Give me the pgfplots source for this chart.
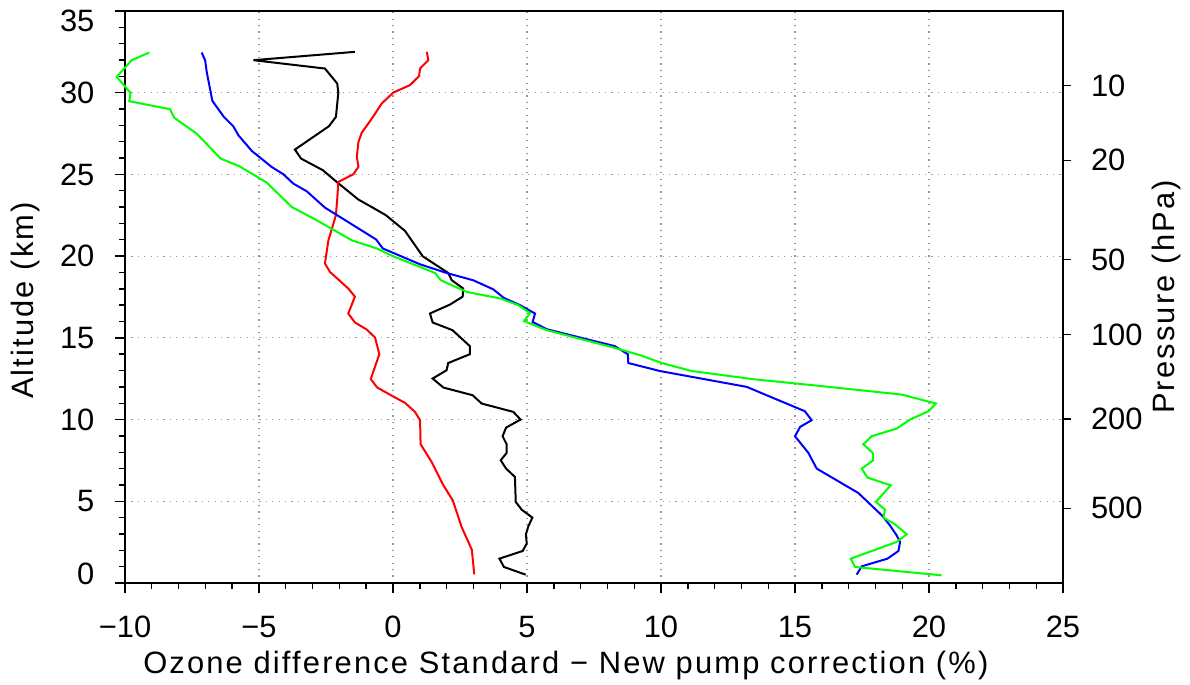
\documentclass[border=0pt]{standalone}
\usepackage{fontspec}
\setmainfont{Liberation Sans}
\usepackage{pgfplots}
\pgfplotsset{compat=1.18}

\definecolor{ozgreen}{RGB}{0,255,0}
\definecolor{ozblue}{RGB}{0,0,255}
\definecolor{ozred}{RGB}{255,0,0}

\tikzset{ozlabel/.style={font=\fontsize{15.5}{18}\selectfont\addfontfeature{LetterSpace=7}}}

\begin{document}
\begin{tikzpicture}
\pgfplotsset{
  ozbase/.style={
    scale only axis, width=469bp, height=286bp,
    xmin=-10, xmax=25, ymin=0, ymax=35,
    font=\fontsize{15.5}{18}\selectfont,
    axis line style={line width=0.8bp},
    every tick/.style={black, line width=0.7bp},
    tick align=outside,
    major tick length=5bp, minor tick length=3bp,
    /pgf/number format/assume math mode=true,
  },
}
\begin{axis}[
  ozbase,
  xtick={-10,-5,...,25}, ytick={0,5,...,35},
  xticklabels={−10,−5,0,5,10,15,20,25},
  yticklabels={\raisebox{-0.5bp}[0pt][0pt]{0},5,10,15,20,25,30,\raisebox{-10.5bp}[0pt][0pt]{35}},
  minor x tick num=4, minor y tick num=4,
  xtick pos=bottom, ytick pos=left,
  grid=major,
  major grid style={gray!80, line width=0.6bp, dash pattern=on 0.6bp off 2.6bp},
  xticklabel style={anchor=center, yshift=-17bp},
  yticklabel style={anchor=east, xshift=-6.5bp},
  xlabel={Ozone difference Standard − New pump correction (\%)},
  ylabel={Altitude (km)},
  every axis x label/.style={at={(axis description cs:0.47,0)}, anchor=center, yshift=-41.5bp, ozlabel},
  every axis y label/.style={at={(axis description cs:0,0.494)}, anchor=center, xshift=-49.5bp, rotate=90, ozlabel},
  clip=false,
  line width=1bp,
]
% black
\addplot[black] coordinates {
  (-1.42,32.50) (-5.21,31.99) (-2.54,31.48) (-2.08,30.56) (-2.04,29.99)
  (-2.13,28.52) (-2.39,27.95) (-3.66,26.52) (-3.43,25.97) (-2.62,25.26)
  (-2.10,24.54) (-1.29,23.46) (-0.80,23.01) (-0.26,22.50) (0.45,21.54)
  (1.11,19.99) (2.06,18.97) (2.19,18.53) (2.62,18.02) (2.60,17.52)
  (2.13,17.04) (1.38,16.49) (1.48,15.94) (2.22,15.47) (2.87,14.49)
  (2.87,14.00) (2.06,13.46) (2.00,13.02) (1.48,12.51) (1.88,11.96)
  (2.97,11.49) (3.31,10.98) (4.49,10.47) (4.76,10.00) (4.22,9.51)
  (4.09,8.98) (4.24,8.49) (4.24,7.96) (4.02,7.51) (4.22,7.00)
  (4.55,6.49) (4.58,4.96) (4.80,4.49) (5.20,4.00) (5.05,3.47)
  (4.96,2.98) (4.99,2.41) (4.84,1.96) (3.97,1.49) (4.14,0.98)
  (4.95,0.51)
};
% red
\addplot[ozred] coordinates {
  (1.26,32.50) (1.32,31.99) (1.01,31.48) (0.97,31.01) (0.63,30.46)
  (0.01,30.01) (-0.42,29.34) (-0.79,28.42) (-1.17,27.54) (-1.29,26.99)
  (-1.35,26.07) (-1.29,25.46) (-1.48,25.01) (-2.04,24.54) (-2.08,23.52)
  (-2.13,22.50) (-2.41,20.97) (-2.54,19.55) (-2.35,19.03) (-1.67,18.02)
  (-1.42,17.52) (-1.67,16.49) (-1.42,15.94) (-0.98,15.51) (-0.67,15.02)
  (-0.51,14.00) (-0.83,12.48) (-0.59,11.96) (-0.01,11.43) (0.45,11.02)
  (0.82,10.47) (1.01,9.96) (1.03,8.49) (1.44,7.41) (1.88,5.98)
  (2.23,5.06) (2.56,3.43) (2.94,2.04) (3.00,1.08) (3.03,0.53)
};
% blue
\addplot[ozblue] coordinates {
  (-7.14,32.46) (-7.01,31.99) (-6.95,31.27) (-6.74,29.50) (-6.31,28.52)
  (-5.96,27.95) (-5.77,27.40) (-5.27,26.44) (-4.53,25.46) (-4.09,25.01)
  (-3.72,24.44) (-3.22,23.97) (-2.54,22.97) (-1.98,22.40) (-0.63,21.02)
  (-0.38,20.47) (1.01,19.50) (2.00,18.97) (3.00,18.52) (3.74,17.97)
  (4.14,17.44) (4.74,17.00) (5.30,16.49) (5.21,15.97) (5.74,15.53)
  (8.28,14.49) (8.76,14.00) (8.78,13.46) (9.96,12.97) (13.20,12.00)
  (13.94,11.49) (15.37,10.51) (15.62,9.96) (15.19,9.55) (15.00,8.98)
  (15.50,7.96) (15.81,7.00) (17.36,5.51) (18.24,4.14) (18.54,3.53)
  (18.79,2.92) (18.92,2.51) (18.86,1.96) (18.45,1.49) (17.49,1.02)
  (17.30,0.51)
};
% green
\addplot[ozgreen] coordinates {
  (-9.09,32.46) (-9.75,31.99) (-10.31,30.97) (-9.79,29.99) (-9.84,29.48)
  (-8.32,28.99) (-8.17,28.48) (-7.33,27.50) (-6.43,25.97) (-5.73,25.50)
  (-4.71,24.50) (-3.78,23.01) (-2.85,22.20) (-1.54,20.97) (-0.61,20.47)
  (0.01,19.99) (1.57,18.97) (1.78,18.53) (2.75,17.81) (4.00,17.41)
  (4.68,17.00) (5.11,16.52) (4.89,16.02) (5.74,15.47) (8.22,14.41)
  (9.22,13.94) (10.03,13.46) (11.15,12.97) (13.45,12.47) (15.68,12.10)
  (18.98,11.53) (20.26,10.98) (19.98,10.51) (19.29,10.00) (18.79,9.45)
  (17.86,8.98) (17.55,8.49) (17.90,7.96) (17.92,7.51) (17.49,7.00)
  (17.70,6.45) (18.57,5.98) (18.02,4.96) (18.36,4.49) (18.30,4.00)
  (18.73,3.59) (19.17,2.98) (18.79,2.51) (17.08,1.49) (17.24,0.98)
  (20.47,0.47)
};
\end{axis}
% pressure axis on the right
\begin{axis}[
  ozbase,
  axis x line=none, axis y line*=right,
  ytick={4.57,10.04,15.20,19.79,25.87,30.44},
  yticklabels={500,200,100,50,20,10},
  minor y tick num=0,
  major tick length=4bp,
  yticklabel style={anchor=west, xshift=6.5bp},
  ylabel={Pressure (hPa)},
  every axis y label/.style={at={(axis description cs:1,0.50)}, anchor=center, xshift=51.5bp, rotate=90, ozlabel},
]
\end{axis}
\pgfresetboundingbox
\path[use as bounding box] (-62.5bp,-51bp) rectangle (532.5bp,291.5bp);
\end{tikzpicture}
\end{document}
